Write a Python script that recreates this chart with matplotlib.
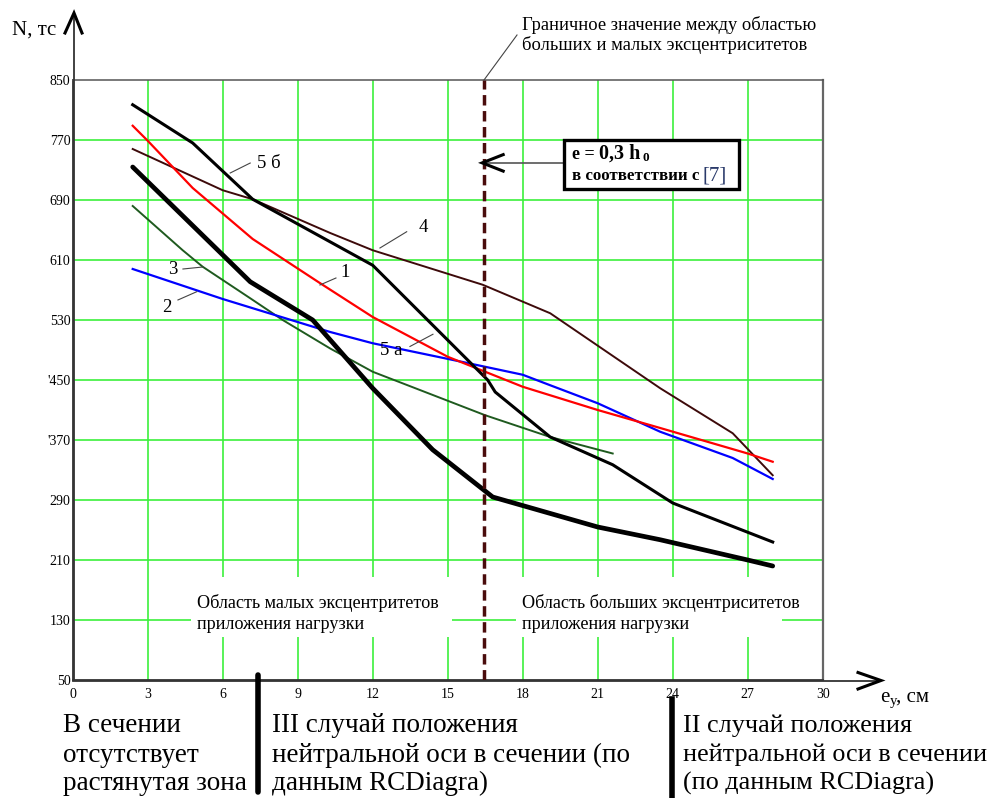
import matplotlib
matplotlib.use('Agg')
import matplotlib.pyplot as plt
from matplotlib.lines import Line2D
from matplotlib.patches import Rectangle

plt.rcParams['font.family'] = ['Liberation Serif', 'DejaVu Serif']

# ---- data ----
x_ticks = [0, 3, 6, 9, 12, 15, 18, 21, 24, 27, 30]
y_ticks = [50, 130, 210, 290, 370, 450, 530, 610, 690, 770, 850]
y_tick_labels = ['50', '130', '210', '290', "'370", "'450", '530', '610', '690', '770', '850']

x_1 = [2.4, 3.0, 4.0, 4.8, 6.0, 7.2, 9.9, 12.0, 15.0, 16.5, 18.0, 21.0, 23.5, 27.0, 28.0]
y_1 = [789, 769, 734, 706, 672, 638, 579, 534, 481, 461, 441, 410, 386, 352, 341]

x_2 = [2.4, 6.0, 10.3, 12.0, 15.6, 18.0, 19.1, 21.0, 23.5, 26.4, 28.0]
y_2 = [598, 558, 514, 499, 474, 457, 443, 419, 381, 346, 318]

x_3 = [2.4, 4.4, 5.2, 7.1, 8.4, 10.3, 12.0, 16.5, 19.1, 21.6]
y_3 = [682, 623, 601, 559, 530, 492, 461, 403, 374, 352]

x_4 = [2.4, 6.0, 7.2, 10.3, 12.0, 16.4, 19.1, 23.5, 26.4, 28.0]
y_4 = [758, 703, 691, 646, 623, 577, 539, 439, 379, 323]

x_5a = [2.4, 7.1, 9.6, 12.0, 14.4, 16.8, 21.0, 23.5, 27.0, 28.0]
y_5a = [734, 581, 530, 439, 357, 294, 254, 237, 210, 202]

x_5b = [2.4, 4.8, 7.2, 12.0, 16.6, 16.9, 19.1, 21.6, 24.0, 28.0]
y_5b = [817, 766, 691, 603, 450, 434, 374, 337, 286, 234]

boundary_x = 16.45

# ---- figure ----
W, H = 994, 798
fig = plt.figure(figsize=(W / 100, H / 100), dpi=100)


def fx(px):
    return px / W


def fy(py):
    return 1 - py / H


ax = fig.add_axes([fx(72.7), fy(680), 750 / W, 600 / H])
ax.set_xlim(0, 30)
ax.set_ylim(50, 850)

grid_c = '#3cf03c'
for xv in x_ticks[1:-1]:
    ax.axvline(xv, color=grid_c, lw=1.2, zorder=1)
for yv in y_ticks[1:-1]:
    ax.axhline(yv, color=grid_c, lw=1.2, zorder=1)

for s in ['left', 'bottom']:
    ax.spines[s].set_color('#333333')
    ax.spines[s].set_linewidth(1.3)
ax.spines['top'].set_color('#555555')
ax.spines['top'].set_linewidth(1.1)
ax.spines['right'].set_color('#666666')
ax.spines['right'].set_linewidth(1.6)

ax.set_xticks(x_ticks)
ax.set_xticklabels([str(v) for v in x_ticks], fontsize=10)
ax.set_yticks(y_ticks)
ax.set_yticklabels(y_tick_labels, fontsize=10)
ax.tick_params(axis='x', length=0, pad=6)
ax.tick_params(axis='y', length=0, pad=1.5)

# curves
ax.plot(x_4, y_4, color='#3d0a0a', lw=1.4, zorder=4)
ax.plot(x_3, y_3, color='#1f5a1f', lw=1.4, zorder=4)
ax.plot(x_2, y_2, color='#0000ff', lw=1.6, zorder=4)
ax.plot(x_1, y_1, color='#ff0000', lw=1.6, zorder=4)
ax.plot(x_5b, y_5b, color='black', lw=2.2, zorder=5)
ax.plot(x_5a, y_5a, color='black', lw=3.4, zorder=5, solid_capstyle='round')

# boundary dashed line
ax.axvline(boundary_x, color='#4a0c0c', lw=2.5, linestyle=(0, (3, 1.6)), zorder=6)

# arrow from box to boundary line
ax.plot([16.45, 19.61], [739, 739], color='#555555', lw=1.2, zorder=6)
ax.plot([17.22, 16.38, 17.22], [750.5, 739.5, 728.5], color='black', lw=2.2, zorder=7,
        clip_on=False, solid_joinstyle='miter')

# curve labels with leader lines
labels = [
    ('5 б', 7.37, 739, 'left', (6.3, 726), (7.1, 739.3)),
    ('4', 14.01, 654, 'center', (12.29, 626), (13.36, 647.7)),
    ('1', 10.89, 592.7, 'center', (9.89, 576.7), (10.53, 586)),
    ('3', 4.02, 596.7, 'center', (4.41, 598), (5.21, 600.7)),
    ('2', 3.76, 546, 'center', (4.21, 556.7), (4.96, 567.7)),
    ('5 а', 12.76, 489.3, 'center', (13.49, 494.7), (14.41, 511)),
]
for txt, tx, ty, ha, p1, p2 in labels:
    ax.text(tx, ty, txt, fontsize=13.5, ha=ha, va='center', zorder=8)
    ax.plot([p1[0], p2[0]], [p1[1], p2[1]], color='#444444', lw=0.8, zorder=8)

# region texts (white background interrupts the grid)
fig.add_artist(Rectangle((fx(191), fy(637)), (452 - 191) / W, 60 / H, transform=fig.transFigure,
                         facecolor='white', edgecolor='none', zorder=2))
fig.add_artist(Rectangle((fx(516), fy(637)), (782 - 516) / W, 60 / H, transform=fig.transFigure,
                         facecolor='white', edgecolor='none', zorder=2))
fs_r = 13.1
fig.text(fx(197), fy(608), 'Область малых эксцентритетов', fontsize=fs_r, va='baseline', zorder=3)
fig.text(fx(197), fy(629), 'приложения нагрузки', fontsize=fs_r, va='baseline', zorder=3)
fig.text(fx(522), fy(608), 'Область больших эксцентриситетов', fontsize=fs_r, va='baseline', zorder=3)
fig.text(fx(522), fy(629), 'приложения нагрузки', fontsize=fs_r, va='baseline', zorder=3)

# axis arrows
fig.add_artist(Line2D([fx(74), fx(74)], [fy(680), fy(14)], color='#333333', lw=1.3))
fig.add_artist(Line2D([fx(65), fx(74), fx(82)], [fy(33), fy(13), fy(33)], color='black', lw=2.2,
                      solid_joinstyle='miter'))
fig.add_artist(Line2D([fx(72.7), fx(880)], [fy(680.5), fy(680.5)], color='#333333', lw=1.3))
fig.add_artist(Line2D([fx(858), fx(881), fx(858)], [fy(672.5), fy(680.5), fy(689)], color='black',
                      lw=2.2, solid_joinstyle='miter'))

# axis titles
fig.text(fx(12), fy(30), 'N, тс', fontsize=15, ha='left', va='center')
fig.text(fx(880), fy(702), 'e', fontsize=15, ha='left', va='baseline')
fig.text(fx(889.5), fy(705), 'y', fontsize=10.5, ha='left', va='baseline')
fig.text(fx(896), fy(702), ', см', fontsize=15, ha='left', va='baseline')

# boundary annotation
fs_t = 13.3
fig.text(fx(521.5), fy(30), 'Граничное значение между областью', fontsize=fs_t, va='baseline')
fig.text(fx(521.5), fy(50), 'больших и малых эксцентриситетов', fontsize=fs_t, va='baseline')
fig.add_artist(Line2D([fx(484), fx(517)], [fy(80), fy(35)], color='#444444', lw=0.8))

# box
fig.add_artist(Rectangle((fx(564), fy(189)), (739 - 564) / W, 49 / H, transform=fig.transFigure,
                         facecolor='white', edgecolor='black', lw=2.4, zorder=9))
fig.text(fx(572), fy(159), 'e =', fontsize=13, fontweight='bold', ha='left', va='baseline', zorder=10)
fig.text(fx(599), fy(159), '0,3 h', fontsize=14.5, fontweight='bold', ha='left', va='baseline', zorder=10)
fig.text(fx(642.5), fy(161), '0', fontsize=9.5, fontweight='bold', ha='left', va='baseline', zorder=10)
fig.text(fx(572), fy(180), 'в соответствии с', fontsize=12.2, fontweight='bold', ha='left',
         va='baseline', zorder=10)
fig.text(fx(703), fy(181), '[7]', fontsize=15, color='#2a3a6a', ha='left', va='baseline', zorder=10)

# bottom separators
fig.add_artist(Line2D([fx(258), fx(258)], [fy(675), fy(792)], color='black', lw=4, solid_capstyle='round'))
fig.add_artist(Line2D([fx(672), fx(672)], [fy(699), fy(798)], color='black', lw=4))

# bottom texts
base_y = [732, 761.5, 790]
blocks = [
    (63, 19.5, ['В сечении', 'отсутствует', 'растянутая зона']),
    (272, 19.5, ['III случай положения', 'нейтральной оси в сечении (по', 'данным RCDiagra)']),
    (683, 18.8, ['II случай положения', 'нейтральной оси в сечении', '(по данным RCDiagra)']),
]
for bx, fs_b, lines in blocks:
    for line, by in zip(lines, base_y):
        fig.text(fx(bx), fy(by), line, fontsize=fs_b, ha='left', va='baseline')

fig.savefig('out.png', dpi=100)
